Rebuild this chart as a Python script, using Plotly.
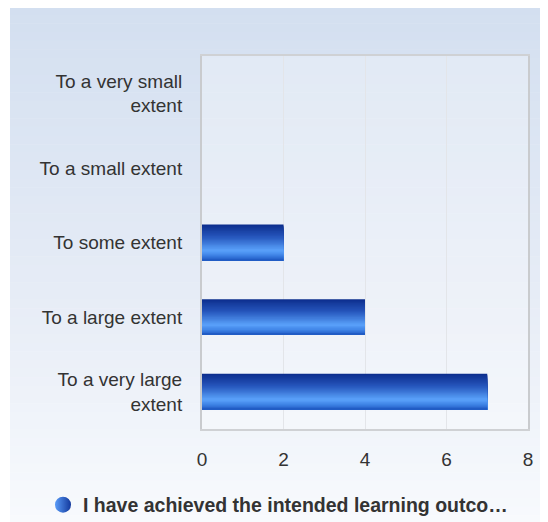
import plotly.graph_objects as go

# ---- data ----
categories = ["To a very small<br>extent", "To a small extent", "To some extent",
              "To a large extent", "To a very large<br>extent"]
values = [0, 0, 2, 4, 7]
series_name = "I have achieved the intended learning outco\u2026"
x_ticks = [0, 2, 4, 6, 8]

# ---- layout constants (page body has an 8px margin) ----
W, H = 540, 514
L, R, T, B = 194, 20, 48, 93
PW, PH = W - L - R, H - T - B
FONT = "Liberation Sans, Arial, sans-serif"

def px_to_paper_x(px):
    return (px - L) / PW

def px_to_paper_y(py):
    return (H - B - py) / PH

def lerp(c1, c2, t):
    return tuple(round(a + (b - a) * t) for a, b in zip(c1, c2))

def hexrgb(h):
    h = h.lstrip("#")
    return tuple(int(h[i:i + 2], 16) for i in (0, 2, 4))

def grad_color(stops, t):
    for i in range(len(stops) - 1):
        p0, c0 = stops[i]
        p1, c1 = stops[i + 1]
        if p0 <= t <= p1:
            return "rgb(%d,%d,%d)" % lerp(hexrgb(c0), hexrgb(c1), (t - p0) / (p1 - p0))
    return "rgb(%d,%d,%d)" % hexrgb(stops[-1][1])

fig = go.Figure()

# gradient bars built from overlapping horizontal slices
bar_h = 0.48
n_slices = 28
bar_stops = [(0.0, "#0c2d8c"), (0.35, "#2757bd"), (0.72, "#5aa2fb"), (0.86, "#3f83e6"), (1.0, "#1d56c0")]
dh = bar_h / n_slices
for i in range(n_slices):
    t = (i + 0.5) / n_slices
    fig.add_trace(go.Bar(
        x=values, y=categories, orientation="h",
        width=bar_h - i * dh, offset=-bar_h / 2 + i * dh,
        marker=dict(color=grad_color(bar_stops, t), line=dict(width=0)),
        showlegend=False, hoverinfo="skip",
    ))

# legend entry
fig.add_trace(go.Scatter(
    x=[None], y=[None], mode="markers", name="<b>" + series_name + "</b>",
    marker=dict(symbol="circle", size=17, color="#5a9cf8",
                gradient=dict(type="horizontal", color="#12389c"),
                line=dict(width=0)),
))

# background gradient bands (outer chart area)
shapes = []
bg_top, bg_bot = -2, H + 2
n_bands = 60
for i in range(n_bands):
    y0 = bg_top + (bg_bot - bg_top) * i / n_bands
    y1 = bg_top + (bg_bot - bg_top) * (i + 1) / n_bands + 0.5
    c = grad_color([(0, "#d3dff0"), (0.55, "#e6ecf6"), (1, "#f8fafd")], (i + 0.5) / n_bands)
    shapes.append(dict(type="rect", xref="paper", yref="paper", layer="below",
                       x0=px_to_paper_x(2), x1=px_to_paper_x(W + 2),
                       y0=px_to_paper_y(y1), y1=px_to_paper_y(y0),
                       fillcolor=c, line=dict(width=0)))
# plot area lightening
shapes.append(dict(type="rect", xref="paper", yref="paper", layer="below",
                   x0=0, x1=1, y0=0, y1=1,
                   fillcolor="rgba(255,255,255,0.28)", line=dict(width=0)))

fig.update_layout(
    width=W, height=H,
    margin=dict(l=L, r=R, t=T, b=B, pad=0),
    paper_bgcolor="white", plot_bgcolor="rgba(0,0,0,0)",
    barmode="overlay",
    font=dict(family=FONT, size=19, color="#333333"),
    shapes=shapes,
    showlegend=True,
    legend=dict(orientation="h", xref="container", yref="container",
                x=0.5, xanchor="center", y=0.033, yanchor="middle",
                font=dict(family=FONT, size=19.5, color="#333333"),
                bgcolor="rgba(0,0,0,0)", itemclick=False),
    xaxis=dict(range=[0, 8], tickvals=x_ticks, ticktext=[str(v) for v in x_ticks],
               showgrid=True, gridcolor="#e3e5e9", gridwidth=1,
               zeroline=False, showline=True, linecolor="#cfd1d4", linewidth=1.5,
               mirror=True, ticks="", ticklabelstandoff=12,
               tickfont=dict(size=19, color="#333333"), fixedrange=True),
    yaxis=dict(type="category", categoryorder="array", categoryarray=categories,
               autorange="reversed", showgrid=False, zeroline=False,
               showline=True, linecolor="#c9cbce", linewidth=2, mirror=True,
               ticks="", ticklabelstandoff=14,
               tickfont=dict(size=19, color="#333333"), fixedrange=True),
)

fig.write_html("out.html")
